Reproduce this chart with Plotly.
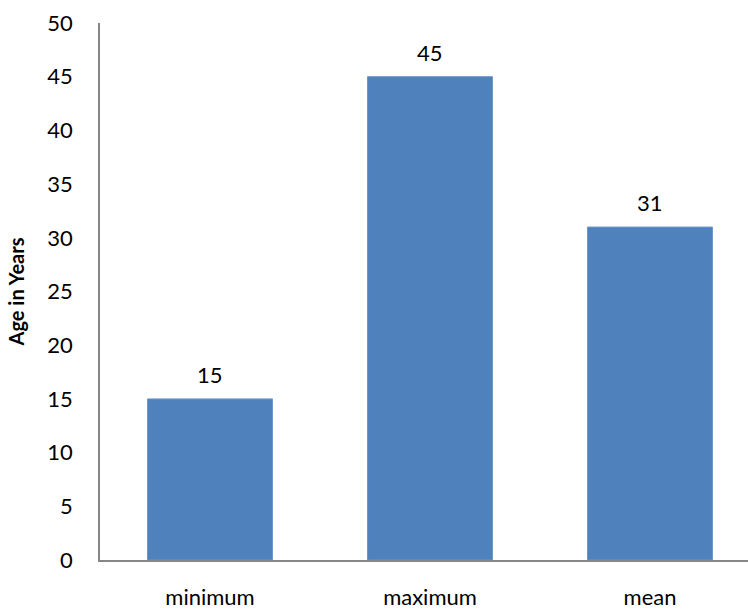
import plotly.graph_objects as go

categories = ["minimum", "maximum", "mean"]
ages = [15, 45, 31]
y_ticks = [0, 5, 10, 15, 20, 25, 30, 35, 40, 45, 50]

FONT = "Lato, 'Open Sans', sans-serif"

fig = go.Figure()
fig.add_trace(go.Bar(
    x=categories, y=ages, width=0.568,
    marker=dict(color="#4F81BD", line=dict(color="#6C96CB", width=1)),
    hoverinfo="x+y",
))

for c, v in zip(categories, ages):
    fig.add_annotation(x=c, y=v, text=str(v), showarrow=False,
                       yanchor="bottom", yshift=9,
                       font=dict(family=FONT, size=22, color="#000000"))

fig.update_layout(
    width=748, height=609,
    margin=dict(l=100, r=0, t=23, b=49),
    plot_bgcolor="white", paper_bgcolor="white",
    showlegend=False,
    font=dict(family=FONT, size=22, color="#000000"),
    xaxis=dict(
        range=[-0.5, 2.4455], showline=True, linecolor="#868686", linewidth=1.5,
        showgrid=False, zeroline=False, ticks="", ticklabelstandoff=17,
        automargin=False,
        tickfont=dict(family=FONT, size=22, color="#000000"),
    ),
    yaxis=dict(
        range=[0, 50], tickvals=y_ticks, showline=True, linecolor="#868686",
        linewidth=1.5, showgrid=False, zeroline=False, ticks="",
        ticklabelstandoff=21,
        tickfont=dict(family=FONT, size=22, color="#000000"),
        title=dict(text="<b>Age in Years</b>", standoff=17,
                   font=dict(family=FONT, size=20, color="#000000")),
    ),
)

fig.write_html("out.html")
